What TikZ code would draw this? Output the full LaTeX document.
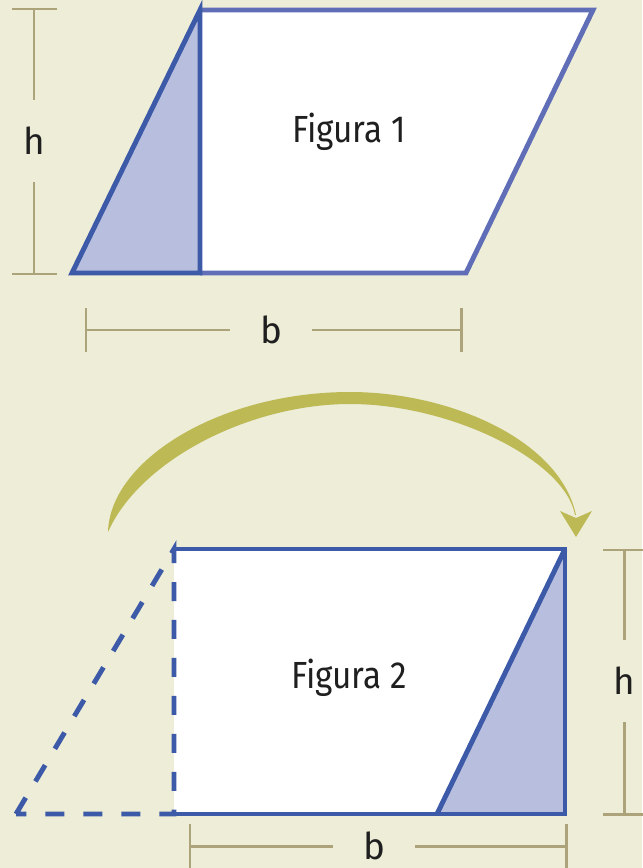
\documentclass[tikz,border=0pt]{standalone}
\usepackage{fontspec}
\setmainfont{Fira Sans}
\definecolor{fondo}{RGB}{238,237,215}
\definecolor{azul}{RGB}{60,90,168}
\definecolor{azulclaro}{RGB}{96,110,184}
\definecolor{relleno}{RGB}{184,190,221}
\definecolor{cota}{RGB}{173,163,122}
\definecolor{oliva}{RGB}{189,185,85}
\usetikzlibrary{positioning}

\begin{document}
\begin{tikzpicture}[
  x=0.02cm,y=-0.02cm,
  borde/.style={draw=#1,line width=2.8pt,line join=miter},
  cotalinea/.style={draw=cota,line width=1.7pt},
  hueco/.style={inner sep=0pt,font=\fontsize{21}{21}\selectfont,text=black!88},
  titulo/.style={anchor=base,font=\fontsize{21.5}{21.5}\selectfont,text=black!88,xscale=0.88}
]
  \fill[fondo] (0,0) rectangle (642,868);
  \useasboundingbox (0,0) rectangle (642,868);

  % Figura 1
  \coordinate (a1) at (72,273);
  \coordinate (b1) at (200,10);
  \coordinate (c1) at (593,10);
  \coordinate (d1) at (466,273);
  \coordinate (e1) at (200,273);
  \fill[white] (b1) -- (c1) -- (d1) -- (e1) -- cycle;
  \fill[relleno] (a1) -- (b1) -- (e1) -- cycle;
  \draw[borde=azulclaro] (b1) -- (c1) -- (d1) -- (e1);
  \draw[borde=azul] (a1) -- (b1) -- (e1) -- cycle;
  \node[titulo] (t1) at (349,143) {Figura 1};

  % Cota h (figura 1)
  \coordinate (h1a) at (34,9);
  \coordinate (h1b) at (34,274);
  \node[hueco,minimum height=1.64cm] (h1) at (34,141) {h};
  \draw[cotalinea] ([xshift=-0.44cm]h1a) -- ([xshift=0.46cm]h1a);
  \draw[cotalinea] ([xshift=-0.44cm]h1b) -- ([xshift=0.46cm]h1b);
  \draw[cotalinea] (h1a) -- (h1.north) (h1.south) -- (h1b);

  % Cota b (figura 1)
  \coordinate (b1a) at (86,330);
  \coordinate (b1b) at (461,330);
  \node[hueco,minimum width=1.64cm] (bb1) at (271,330) {b};
  \draw[cotalinea] ([yshift=0.44cm]b1a) -- ([yshift=-0.44cm]b1a);
  \draw[cotalinea] ([yshift=0.44cm]b1b) -- ([yshift=-0.44cm]b1b);
  \draw[cotalinea] (b1a) -- (bb1.west) (bb1.east) -- (b1b);

  % Flecha curva
  \fill[oliva] (108,532) .. controls (110,460) and (220,392) .. (350,392)
    .. controls (450,392) and (560,440) .. (576,515)
    -- (575,515) .. controls (565,460) and (450,404) .. (350,404)
    .. controls (250,404) and (140,460) .. (108,532) -- cycle;
  \fill[oliva] (560,511) -- (576,518) -- (592,511) -- (576,537) -- cycle;

  % Figura 2
  \coordinate (a2) at (174,549);
  \coordinate (b2) at (565,549);
  \coordinate (c2) at (565,814);
  \coordinate (d2) at (174,814);
  \coordinate (e2) at (437,814);
  \coordinate (f2) at (16,814);
  \fill[white] (a2) rectangle (c2);
  \fill[relleno] (e2) -- (b2) -- (c2) -- cycle;
  \draw[borde=azul] (a2) -- (b2) -- (c2) -- (d2);
  \draw[borde=azul] (e2) -- (b2);
  \draw[borde=azul,dash pattern=on 10.8pt off 10.8pt] (f2) -- (a2) -- (d2) -- cycle;
  \node[titulo] (t2) at (349,688) {Figura 2};

  % Cota h (figura 2)
  \coordinate (h2a) at (624,550);
  \coordinate (h2b) at (624,814);
  \node[hueco,minimum height=1.62cm] (h2) at (624,681) {h};
  \draw[cotalinea] ([xshift=-0.42cm]h2a) -- ([xshift=0.42cm]h2a);
  \draw[cotalinea] ([xshift=-0.42cm]h2b) -- ([xshift=0.42cm]h2b);
  \draw[cotalinea] (h2a) -- (h2.north) (h2.south) -- (h2b);

  % Cota b (figura 2)
  \coordinate (b2a) at (190,846);
  \coordinate (b2b) at (566,846);
  \node[hueco,minimum width=1.64cm] (bb2) at (374,846) {b};
  \draw[cotalinea] ([yshift=0.44cm]b2a) -- ([yshift=-0.5cm]b2a);
  \draw[cotalinea] ([yshift=0.44cm]b2b) -- ([yshift=-0.5cm]b2b);
  \draw[cotalinea] (b2a) -- (bb2.west) (bb2.east) -- (b2b);
\end{tikzpicture}
\end{document}
